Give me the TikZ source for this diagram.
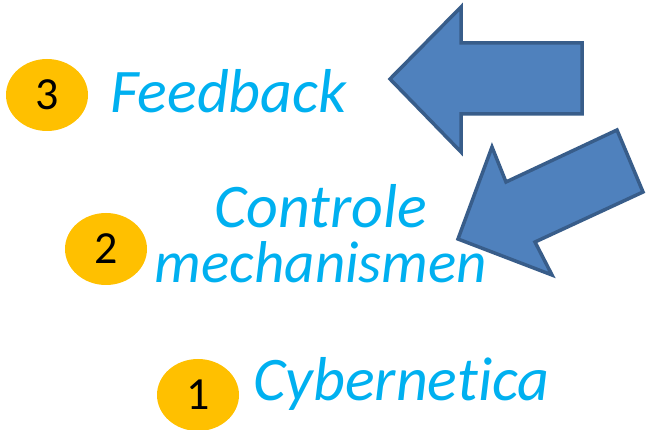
\documentclass[tikz,border=0pt]{standalone}
\usepackage{fontspec}
\setmainfont{Carlito}[RawFeature={-liga;-clig;-calt;-dlig}]
\usetikzlibrary{shapes.geometric}
\definecolor{termblue}{HTML}{00B0F0}
\definecolor{badgegold}{HTML}{FFC000}
\definecolor{arrowfill}{HTML}{4F81BD}
\definecolor{arrowline}{HTML}{385D8A}
\begin{document}
\begin{tikzpicture}[x=1pt, y=-1pt,
   term/.style = {text=termblue, inner sep=0pt, font=\fontsize{62}{55}\selectfont\itshape},
   badge/.style = {ellipse, fill=badgegold, minimum width=82pt, minimum height=72pt,
                   inner sep=0pt, font=\fontsize{46}{46}\selectfont},
   bigarrow/.style = {fill=arrowfill, draw=arrowline, line width=3.5pt, line join=miter}]
   \useasboundingbox (0,0) rectangle (646,430);
   \draw[bigarrow] (390,79) -- (461,7) -- (461,43) -- (582,43) -- (582,114)
      -- (461,114) -- (461,152) -- cycle;
   \draw[bigarrow] (458,239) -- (492,147) -- (506,182) -- (617,130) -- (643,192)
      -- (535,242) -- (552,275) -- cycle;
   \node[badge] (badge3) at (47,95) {3};
   \node[badge] (badge2) at (106,249) {2};
   \node[badge] (badge1) at (198,395) {1};
   \node[term, anchor=base west] (feedback) at (110,113) {Feedback};
   \node[term, anchor=base, align=center] (controle) at (321,283)
      {Controle\\\fontsize{59}{55}\selectfont mechanismen};
   \node[term, anchor=base west] (cybernetica) at (253,401) {Cybernetica};
\end{tikzpicture}
\end{document}
